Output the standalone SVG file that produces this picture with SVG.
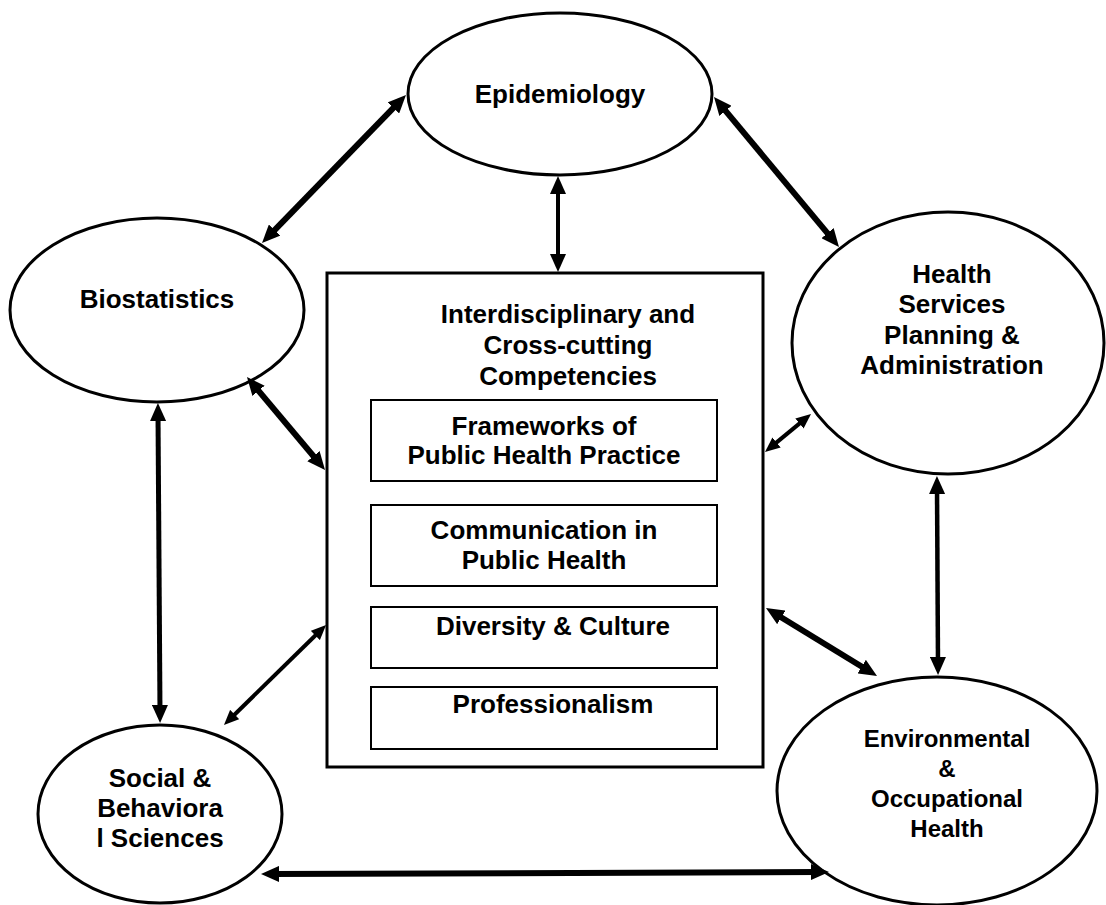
<svg xmlns="http://www.w3.org/2000/svg" width="1106" height="905" viewBox="0 0 1106 905">
<defs>
<style>
.node{fill:#fff;stroke:#000;stroke-width:3}
.box{fill:#fff;stroke:#000;stroke-width:2}
.t{font-family:"Liberation Sans",Arial,sans-serif;font-weight:bold;font-size:26px;fill:#000;text-anchor:middle}
.s{font-size:24px}
.c{fill:none;stroke:#000;marker-start:url(#ah);marker-end:url(#ah)}
.c.sm{marker-start:url(#ahs);marker-end:url(#ahs)}
</style>
<marker id="ah" markerUnits="userSpaceOnUse" markerWidth="18" markerHeight="16" refX="8" refY="8" orient="auto-start-reverse" viewBox="0 0 18 16">
<path d="M0,0 L18,8 L0,16 z" fill="#000"/>
</marker>
<marker id="ahs" markerUnits="userSpaceOnUse" markerWidth="15" markerHeight="13" refX="5" refY="6.5" orient="auto-start-reverse" viewBox="0 0 15 13">
<path d="M0,0 L15,6.5 L0,13 z" fill="#000"/>
</marker>
</defs>
<rect width="1106" height="905" fill="#fff"/>

<g id="epidemiology">
<ellipse class="node" cx="560" cy="94" rx="152" ry="81"/>
<text class="t" x="560" y="103">Epidemiology</text>
</g>

<g id="biostatistics">
<ellipse class="node" cx="157" cy="310" rx="147" ry="92"/>
<text class="t" x="157" y="308">Biostatistics</text>
</g>

<g id="health-services">
<ellipse class="node" cx="948" cy="343" rx="156" ry="131"/>
<text class="t" x="952" y="283">Health</text>
<text class="t" x="952" y="313">Services</text>
<text class="t" x="952" y="344">Planning &amp;</text>
<text class="t" x="952" y="374">Administration</text>
</g>

<g id="social-behavioral">
<ellipse class="node" cx="160" cy="814" rx="122" ry="89"/>
<text class="t" x="160" y="787">Social &amp;</text>
<text class="t" x="160" y="817">Behaviora</text>
<text class="t" x="160" y="847">l Sciences</text>
</g>

<g id="environmental">
<ellipse class="node" cx="937" cy="791" rx="160" ry="114"/>
<text class="t s" x="947" y="747">Environmental</text>
<text class="t s" x="947" y="777">&amp;</text>
<text class="t s" x="947" y="807">Occupational</text>
<text class="t s" x="947" y="837">Health</text>
</g>

<g id="competencies">
<rect class="node" x="327" y="273" width="436" height="494"/>
<text class="t" x="568" y="323">Interdisciplinary and</text>
<text class="t" x="568" y="354">Cross-cutting</text>
<text class="t" x="568" y="385">Competencies</text>
</g>

<g id="frameworks">
<rect class="box" x="371" y="400" width="346" height="81"/>
<text class="t" x="544" y="435">Frameworks of</text>
<text class="t" x="544" y="464">Public Health Practice</text>
</g>

<g id="communication">
<rect class="box" x="371" y="505" width="346" height="81"/>
<text class="t" x="544" y="539">Communication in</text>
<text class="t" x="544" y="569">Public Health</text>
</g>

<g id="diversity">
<rect class="box" x="371" y="607" width="346" height="61"/>
<text class="t" x="553" y="635">Diversity &amp; Culture</text>
</g>

<g id="professionalism">
<rect class="box" x="371" y="687" width="346" height="62"/>
<text class="t" x="553" y="713">Professionalism</text>
</g>

<g id="connectors">
<line class="c" x1="269" y1="235.8" x2="399" y2="102.2" stroke-width="6"/>
<line class="c" x1="558" y1="186" x2="558" y2="262" stroke-width="4"/>
<line class="c" x1="720.4" y1="104.7" x2="832.6" y2="239.3" stroke-width="6"/>
<line class="c sm" x1="803.3" y1="420.4" x2="772.7" y2="445.6" stroke-width="4"/>
<line class="c" x1="937" y1="486" x2="938" y2="665" stroke-width="4.5"/>
<line class="c" x1="774.5" y1="613.2" x2="868.5" y2="670.8" stroke-width="6"/>
<line class="c" x1="253.4" y1="384.7" x2="318.6" y2="462.3" stroke-width="6"/>
<line class="c" x1="158" y1="413" x2="160" y2="713" stroke-width="5"/>
<line class="c sm" x1="231.1" y1="718" x2="318.9" y2="632" stroke-width="4"/>
<line class="c" x1="271" y1="874" x2="819" y2="872" stroke-width="6"/>
</g>
</svg>
